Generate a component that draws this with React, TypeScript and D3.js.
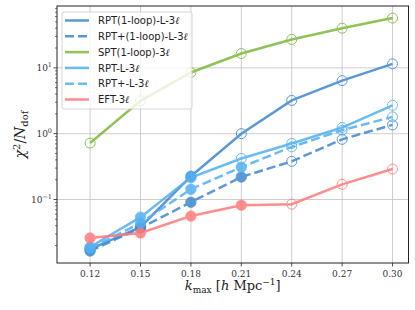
import * as d3 from "d3";

const kValues = [0.12, 0.15, 0.18, 0.21, 0.24, 0.27, 0.3];
const xTicks = ["0.12", "0.15", "0.18", "0.21", "0.24", "0.27", "0.30"];

const rptLoopL = [0.0176, 0.038, 0.226, 1.0, 3.2, 6.4, 11.5];
const rptPlusLoopL = [0.0165, 0.037, 0.091, 0.22, 0.38, 0.82, 1.36];
const sptLoop = [0.72, 3.15, 8.5, 16.5, 27, 40, 57];
const rptL = [0.019, 0.054, 0.215, 0.42, 0.71, 1.24, 2.7];
const rptPlusL = [0.018, 0.044, 0.143, 0.31, 0.63, 1.13, 1.8];
const eft = [0.026, 0.031, 0.056, 0.082, 0.085, 0.17, 0.29];

const seriesNames = ["RPT(1-loop)-L-3", "RPT+(1-loop)-L-3", "SPT(1-loop)-3", "RPT-L-3", "RPT+-L-3", "EFT-3"];
const seriesData = [rptLoopL, rptPlusLoopL, sptLoop, rptL, rptPlusL, eft];
const filledCount = [3, 4, 0, 3, 4, 4];
const colors = ["#3f88d0", "#3f88d0", "#7cb83a", "#52b0f2", "#52b0f2", "#ff7a7a"];
const dashed = [false, true, false, false, true, false];

const yDecades = [1, 0, -1];

const W = 415, H = 310;
const margin = { top: 6, right: 6.5, bottom: 47, left: 57 };

export default function App() {
  const x = d3.scaleLinear().domain([0.1003, 0.3095]).range([margin.left, W - margin.right]);
  const y = d3.scaleLog().domain([0.01085, 87]).range([H - margin.bottom, margin.top]);
  const line = d3.line<number>().x((d, i) => x(kValues[i])).y(d => y(d));

  const minor: number[] = [];
  for (let e = -2; e <= 1; e++) {
    for (let m = 2; m <= 9; m++) {
      const v = m * Math.pow(10, e);
      if (v > y.domain()[0] && v < y.domain()[1]) minor.push(v);
    }
  }

  const bottom = H - margin.bottom;
  const serif = "DejaVu Serif";
  const sans = "DejaVu Sans";

  return (
    <svg width={W} height={H} style={{ position: "absolute", left: 0, top: 0, background: "#fff" }}>
      <defs>
        <clipPath id="plotclip">
          <rect x={margin.left} y={margin.top} width={W - margin.left - margin.right} height={bottom - margin.top} />
        </clipPath>
      </defs>
      {/* grid */}
      {kValues.map((k, i) => (
        <line key={"gx" + i} x1={x(k)} x2={x(k)} y1={margin.top} y2={bottom} stroke="#c8c8c8" strokeWidth={0.9} />
      ))}
      {yDecades.map(e => (
        <line key={"gy" + e} x1={margin.left} x2={W - margin.right} y1={y(Math.pow(10, e))} y2={y(Math.pow(10, e))} stroke="#c8c8c8" strokeWidth={0.9} />
      ))}

      {/* series */}
      <g clipPath="url(#plotclip)">
        {seriesData.map((data, s) => (
          <g key={"s" + s} opacity={0.85}>
            <path d={line(data) || ""} fill="none" stroke={colors[s]} strokeWidth={2.5}
              strokeDasharray={dashed[s] ? "9,4" : undefined} />
            {data.map((v, i) => (
              i < filledCount[s]
                ? <circle key={i} cx={x(kValues[i])} cy={y(v)} r={5.2} fill={colors[s]} stroke={colors[s]} strokeWidth={0.8} />
                : <circle key={i} cx={x(kValues[i])} cy={y(v)} r={5} fill="none" stroke={colors[s]} strokeWidth={1} />
            ))}
          </g>
        ))}
      </g>

      {/* axes frame */}
      <rect x={margin.left} y={margin.top} width={W - margin.left - margin.right} height={bottom - margin.top}
        fill="none" stroke="#222" strokeWidth={1} />

      {/* x ticks */}
      {kValues.map((k, i) => (
        <g key={"xt" + i}>
          <line x1={x(k)} x2={x(k)} y1={bottom} y2={bottom + 3.5} stroke="#222" strokeWidth={0.8} />
          <text x={x(k)} y={bottom + 14} textAnchor="middle" fontFamily={serif} fontSize={9} fill="#333">{xTicks[i]}</text>
        </g>
      ))}

      {/* y ticks */}
      {yDecades.map(e => (
        <g key={"yt" + e}>
          <line x1={margin.left - 3.5} x2={margin.left} y1={y(Math.pow(10, e))} y2={y(Math.pow(10, e))} stroke="#222" strokeWidth={0.8} />
          <text x={margin.left - 5} y={y(Math.pow(10, e)) + 3} textAnchor="end" fontFamily={serif} fontSize={9} fill="#333">
            10<tspan dy={-4} fontSize={6.5}>{e < 0 ? "\u2212" + Math.abs(e) : e}</tspan>
          </text>
        </g>
      ))}
      {minor.map((v, i) => (
        <line key={"mt" + i} x1={margin.left - 2} x2={margin.left} y1={y(v)} y2={y(v)} stroke="#222" strokeWidth={0.6} />
      ))}

      {/* axis labels */}
      <text x={(margin.left + W - margin.right) / 2} y={290} textAnchor="middle" fontFamily={serif} fontSize={13} fill="#222">
        <tspan fontStyle="italic">k</tspan>
        <tspan dy={3} fontSize={9}>max</tspan>
        <tspan dy={-3}> [</tspan>
        <tspan fontStyle="italic">h</tspan>
        <tspan> Mpc</tspan>
        <tspan dy={-5} fontSize={9}>{"\u22121"}</tspan>
        <tspan dy={5}>]</tspan>
      </text>
      <text transform={`translate(25, ${(margin.top + bottom) / 2}) rotate(-90)`} textAnchor="middle" fontFamily={serif} fontSize={14} fill="#222">
        <tspan fontStyle="italic">χ</tspan>
        <tspan dy={-5} fontSize={10}>2</tspan>
        <tspan dy={5}>/</tspan>
        <tspan fontStyle="italic">N</tspan>
        <tspan dy={3} fontSize={10}>dof</tspan>
      </text>

      {/* legend */}
      <rect x={62} y={12} width={130} height={97} rx={2} fill="#fff" fillOpacity={0.8} stroke="#cccccc" strokeWidth={0.8} />
      {seriesNames.map((name, s) => {
        const ly = 20.5 + s * 15.8;
        return (
          <g key={"lg" + s}>
            <line x1={65} x2={89} y1={ly} y2={ly} stroke={colors[s]} strokeWidth={2.5} opacity={0.85}
              strokeDasharray={dashed[s] ? "9,4" : undefined} />
            <text x={98} y={ly + 3.6} fontFamily={sans} fontSize={10} fill="#222">
              {name}<tspan fontFamily={serif} fontStyle="italic">ℓ</tspan>
            </text>
          </g>
        );
      })}
    </svg>
  );
}
